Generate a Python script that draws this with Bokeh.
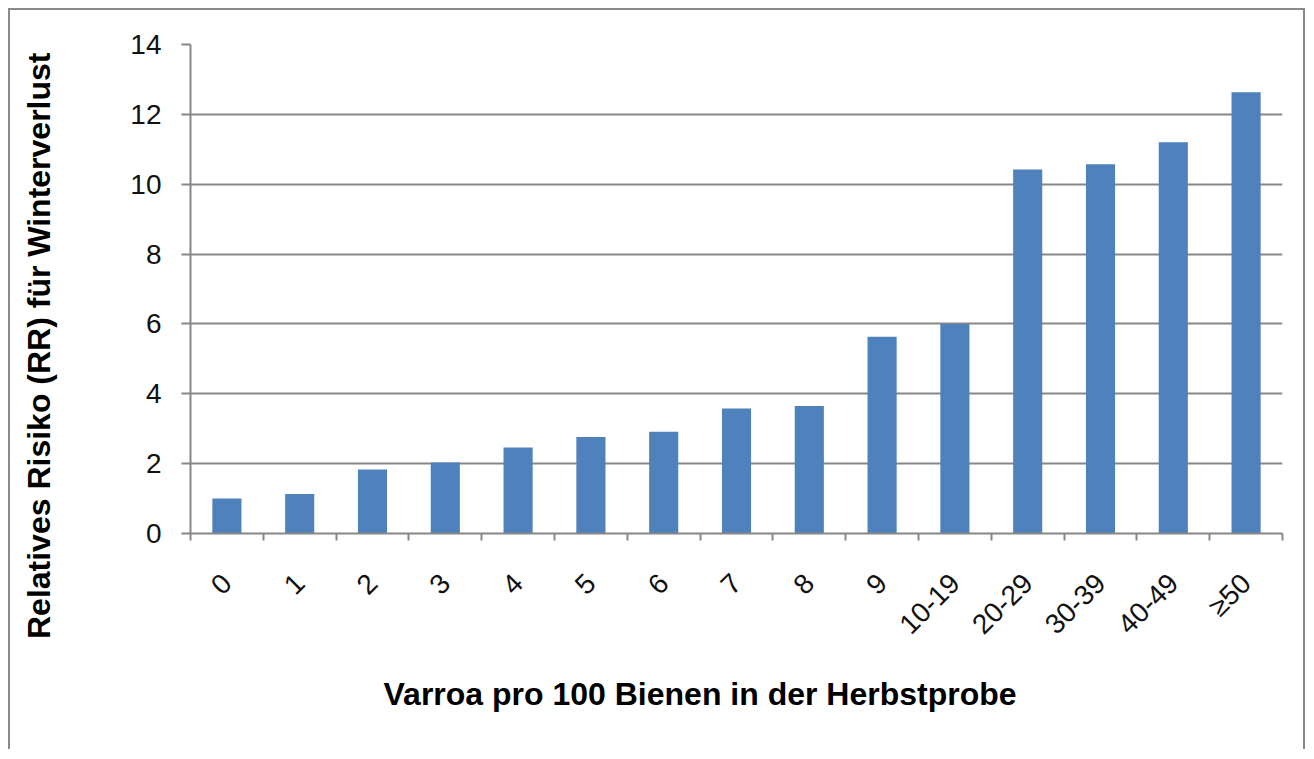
from bokeh.plotting import figure
from bokeh.models import FixedTicker, ColumnDataSource, InlineStyleSheet, Range1d, Title
from bokeh.embed import file_html
from bokeh.resources import INLINE

categories = ["0", "1", "2", "3", "4", "5", "6", "7", "8", "9",
              "10-19", "20-29", "30-39", "40-49", "\u226550"]
rr_values = [1.0, 1.13, 1.83, 2.03, 2.46, 2.76, 2.91, 3.58, 3.65, 5.63,
             6.0, 10.42, 10.57, 11.2, 12.63]
y_ticks = [0, 2, 4, 6, 8, 10, 12, 14]
x_title = "Varroa pro 100 Bienen in der Herbstprobe"
y_title = "Relatives Risiko (RR) f\u00fcr Winterverlust"

n = len(categories)
centers = [i + 0.5 for i in range(n)]
bounds = list(range(n + 1))

src = ColumnDataSource(dict(x=centers, top=rr_values, cat=categories))

GRAY = "#878787"
FONT = "Liberation Sans"

p = figure(width=1297, height=741, output_backend="svg", toolbar_location=None,
           x_range=Range1d(0, n), y_range=Range1d(0, 14),
           min_border_left=180, min_border_right=25, min_border_top=34,
           min_border_bottom=218)
p.outline_line_color = None
p.background_fill_color = "white"
p.border_fill_color = "white"

p.vbar(x="x", top="top", bottom=0, width=0.40, source=src,
       fill_color="#4F81BD", line_color=None)

# x axis
xa = p.xaxis[0]
xa.ticker = FixedTicker(ticks=centers, minor_ticks=bounds)
xa.major_label_overrides = {c: lab for c, lab in zip(centers, categories)}
xa.major_tick_out = 0
xa.major_tick_in = 0
xa.minor_tick_out = 7
xa.minor_tick_in = 0
xa.minor_tick_line_color = GRAY
xa.minor_tick_line_width = 2
xa.axis_line_color = GRAY
xa.axis_line_width = 2
xa.major_label_orientation = 0.785398
xa.major_label_standoff = 38
xa.major_label_text_font = FONT
xa.major_label_text_font_size = "28px"
xa.major_label_text_color = "#111111"

# y axis
ya = p.yaxis[0]
ya.ticker = FixedTicker(ticks=y_ticks)
ya.major_tick_out = 9
ya.major_tick_in = 0
ya.major_tick_line_color = GRAY
ya.major_tick_line_width = 2
ya.minor_tick_line_color = None
ya.axis_line_color = GRAY
ya.axis_line_width = 2
ya.major_label_standoff = 20
ya.major_label_text_font = FONT
ya.major_label_text_font_size = "28px"
ya.major_label_text_color = "#111111"
# spacer so that the y title sits near the left edge like the original
ya.axis_label = " "
ya.axis_label_text_font_size = "2px"
ya.axis_label_standoff = 66

p.xgrid.grid_line_color = None
p.ygrid.ticker = FixedTicker(ticks=y_ticks)
p.ygrid.grid_line_color = GRAY
p.ygrid.grid_line_width = 2

# axis titles (placed like the original, not centred on the plot frame)
p.add_layout(Title(text=x_title, align="left", offset=193, standoff=38,
                   text_font=FONT, text_font_size="32px", text_font_style="bold",
                   text_color="#000000"), "below")
p.add_layout(Title(text=y_title, align="right", offset=8, standoff=0,
                   text_font=FONT, text_font_size="32px", text_font_style="bold",
                   text_color="#000000"), "left")

p.stylesheets = [InlineStyleSheet(css=":host { margin: 8px 0 0 8px; "
                                      "border-top: 2px solid #8a8a8a; "
                                      "border-left: 2px solid #8a8a8a; "
                                      "border-right: 2px solid #8a8a8a; }")]

open("out.html", "w").write(file_html(p, INLINE))
